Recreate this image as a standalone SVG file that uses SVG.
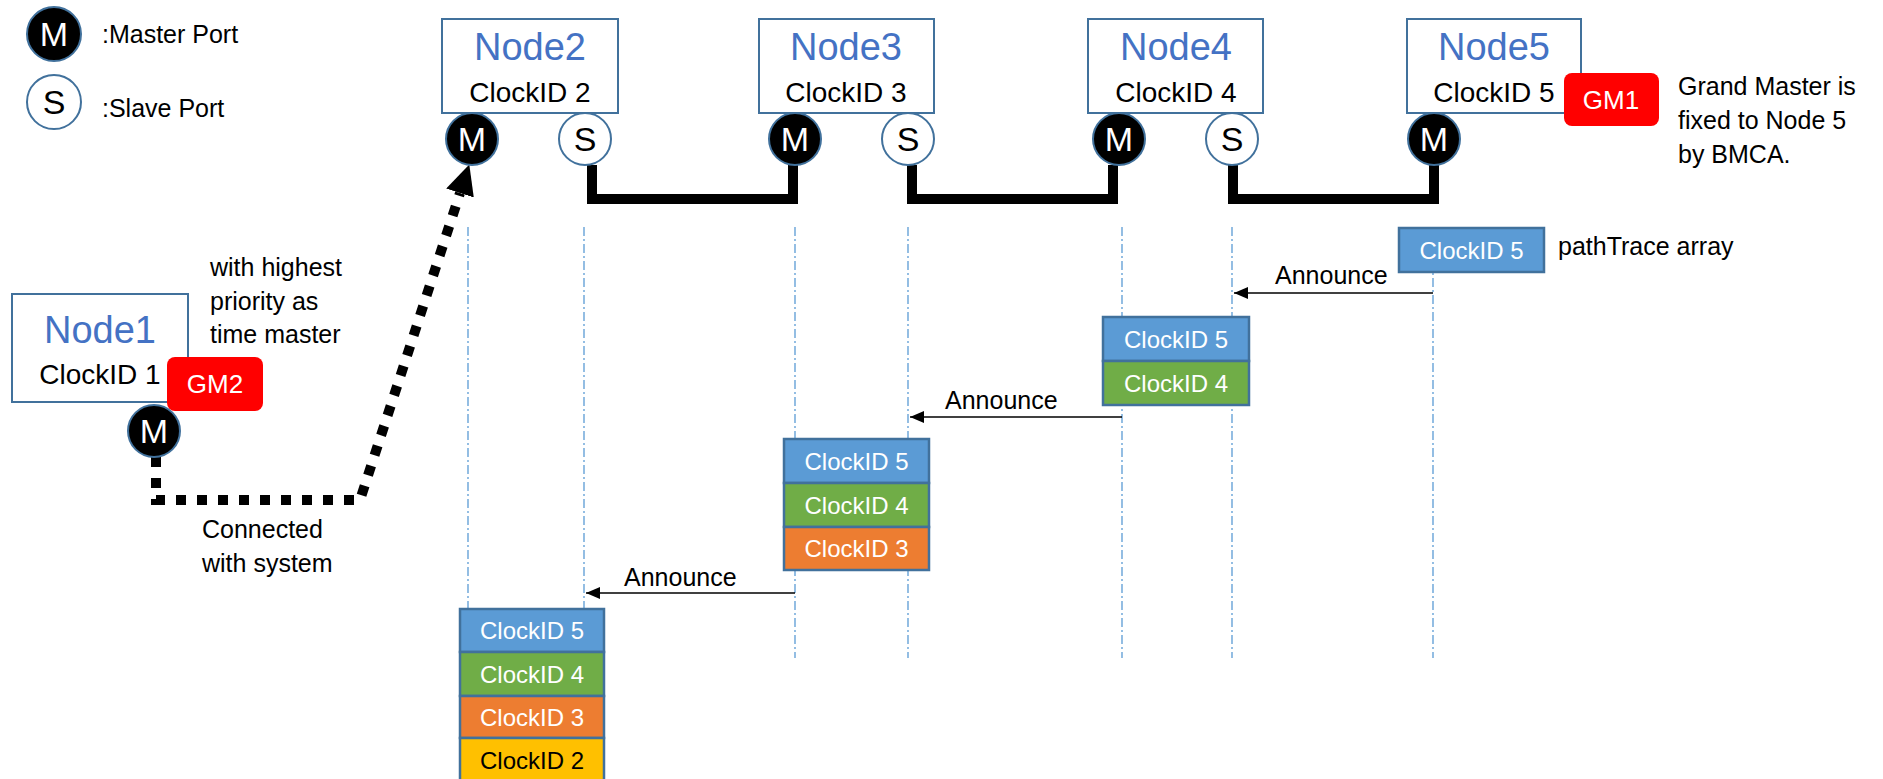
<svg xmlns="http://www.w3.org/2000/svg" width="1883" height="779" viewBox="0 0 1883 779">
<style>
text{font-family:"Liberation Sans",Arial,sans-serif}
.box{fill:#fff;stroke:#41719C;stroke-width:2}
.title{font-size:38px;fill:#4472C4;text-anchor:middle}
.cid{font-size:28px;fill:#000;text-anchor:middle}
.pM{fill:#000;stroke:#41719C;stroke-width:2}
.pS{fill:#fff;stroke:#41719C;stroke-width:2}
.tM{font-size:34px;fill:#fff;text-anchor:middle}
.tS{font-size:34px;fill:#000;text-anchor:middle}
.gm{fill:#FF0000}
.gmt{font-size:26px;fill:#fff;text-anchor:middle}
.cell{stroke:#41719C;stroke-width:2.5}
.blue{fill:#5B9BD5}.green{fill:#70AD47}.orange{fill:#ED7D31}.yellow{fill:#FFC000}
.ct{font-size:24px;fill:#fff;text-anchor:middle}
.ctb{font-size:24px;fill:#000;text-anchor:middle}
.life{stroke:#5B9BD5;stroke-width:1.3;stroke-dasharray:9 3 2 3;fill:none}
.link{stroke:#000;stroke-width:10;fill:none}
.dotted{stroke:#000;stroke-width:10;stroke-dasharray:10 11;fill:none}
.msg{stroke:#000;stroke-width:1.5;fill:none;marker-end:url(#arr)}
.lbl{font-size:25px;fill:#000}
</style>
<defs>
<marker id="arr" viewBox="0 0 14 12" refX="14" refY="6" markerWidth="14" markerHeight="12" markerUnits="userSpaceOnUse" orient="auto"><path d="M0,0 L14,6 L0,12 z" fill="#000"/></marker>
<marker id="big" viewBox="0 0 30 29" refX="0" refY="14.5" markerWidth="30" markerHeight="29" markerUnits="userSpaceOnUse" orient="auto"><path d="M0,0 L30,14.5 L0,29 z" fill="#000"/></marker>
</defs>

<g id="legend">
<circle class="pM" cx="54" cy="34" r="27"/><text class="tM" x="54" y="46">M</text>
<text class="lbl" x="102" y="43">:Master Port</text>
<circle class="pS" cx="54" cy="102" r="27"/><text class="tS" x="54" y="114">S</text>
<text class="lbl" x="102" y="117">:Slave Port</text>
</g>

<g id="connectors">
<g id="lifelines">
<path class="life" d="M468,227V609M584,227V609M795,227V658M908,227V658M1122,227V658M1232,227V658M1433,227V658"/>
</g>
<path class="link" d="M592,165V199H793V165"/>
<path class="link" d="M912,165V199H1113V165"/>
<path class="link" d="M1233,165V199H1434V165"/>
<path class="dotted" d="M156,457V500H360L460,193" marker-end="url(#big)"/>
<path class="msg" d="M1433,293H1234"/>
<path class="msg" d="M1122,417H910"/>
<path class="msg" d="M795,593H586"/>
<text class="lbl" x="1275" y="284">Announce</text>
<text class="lbl" x="945" y="409">Announce</text>
<text class="lbl" x="624" y="586">Announce</text>
</g>

<g id="node1">
<rect class="box" x="12" y="294" width="176" height="108"/>
<text class="title" x="100" y="343">Node1</text>
<text class="cid" x="100" y="384">ClockID 1</text>
<rect class="gm" x="167" y="357" width="96" height="54" rx="8"/>
<text class="gmt" x="215" y="393">GM2</text>
<circle class="pM" cx="154" cy="431" r="26"/><text class="tM" x="154" y="443">M</text>
</g>
<g id="node2">
<rect class="box" x="442" y="19" width="176" height="94"/>
<text class="title" x="530" y="60">Node2</text>
<text class="cid" x="530" y="102">ClockID 2</text>
<circle class="pM" cx="472" cy="139" r="26"/><text class="tM" x="472" y="151">M</text>
<circle class="pS" cx="585" cy="139" r="26"/><text class="tS" x="585" y="151">S</text>
</g>
<g id="node3">
<rect class="box" x="759" y="19" width="175" height="94"/>
<text class="title" x="846" y="60">Node3</text>
<text class="cid" x="846" y="102">ClockID 3</text>
<circle class="pM" cx="795" cy="139" r="26"/><text class="tM" x="795" y="151">M</text>
<circle class="pS" cx="908" cy="139" r="26"/><text class="tS" x="908" y="151">S</text>
</g>
<g id="node4">
<rect class="box" x="1088" y="19" width="175" height="94"/>
<text class="title" x="1176" y="60">Node4</text>
<text class="cid" x="1176" y="102">ClockID 4</text>
<circle class="pM" cx="1119" cy="139" r="26"/><text class="tM" x="1119" y="151">M</text>
<circle class="pS" cx="1232" cy="139" r="26"/><text class="tS" x="1232" y="151">S</text>
</g>
<g id="node5">
<rect class="box" x="1407" y="19" width="174" height="94"/>
<text class="title" x="1494" y="60">Node5</text>
<text class="cid" x="1494" y="102">ClockID 5</text>
<rect class="gm" x="1564" y="73" width="95" height="53" rx="8"/>
<text class="gmt" x="1611" y="109">GM1</text>
<circle class="pM" cx="1434" cy="139" r="26"/><text class="tM" x="1434" y="151">M</text>
</g>

<g id="array5">
<rect class="cell blue" x="1399" y="228" width="145" height="44"/>
<text class="ct" x="1471.5" y="258.5">ClockID 5</text>
</g>
<g id="array4">
<rect class="cell blue" x="1103" y="317" width="146" height="44"/>
<text class="ct" x="1176" y="347.5">ClockID 5</text>
<rect class="cell green" x="1103" y="361" width="146" height="44"/>
<text class="ct" x="1176" y="391.5">ClockID 4</text>
</g>
<g id="array3">
<rect class="cell blue" x="784" y="439" width="145" height="44"/>
<text class="ct" x="856.5" y="469.5">ClockID 5</text>
<rect class="cell green" x="784" y="483" width="145" height="44"/>
<text class="ct" x="856.5" y="513.5">ClockID 4</text>
<rect class="cell orange" x="784" y="527" width="145" height="43"/>
<text class="ct" x="856.5" y="557">ClockID 3</text>
</g>
<g id="array2">
<rect class="cell blue" x="460" y="609" width="144" height="43"/>
<text class="ct" x="532" y="639">ClockID 5</text>
<rect class="cell green" x="460" y="652" width="144" height="44"/>
<text class="ct" x="532" y="682.5">ClockID 4</text>
<rect class="cell orange" x="460" y="696" width="144" height="42"/>
<text class="ct" x="532" y="725.5">ClockID 3</text>
<rect class="cell yellow" x="460" y="738" width="144" height="44"/>
<text class="ctb" x="532" y="768.5">ClockID 2</text>
</g>

<g id="notes">
<text class="lbl" x="210" y="276">with highest</text>
<text class="lbl" x="210" y="310">priority as</text>
<text class="lbl" x="210" y="343">time master</text>
<text class="lbl" x="202" y="538">Connected</text>
<text class="lbl" x="202" y="572">with system</text>
<text class="lbl" x="1678" y="95">Grand Master is</text>
<text class="lbl" x="1678" y="129">fixed to Node 5</text>
<text class="lbl" x="1678" y="163">by BMCA.</text>
<text class="lbl" x="1558" y="255">pathTrace array</text>
</g>
</svg>
